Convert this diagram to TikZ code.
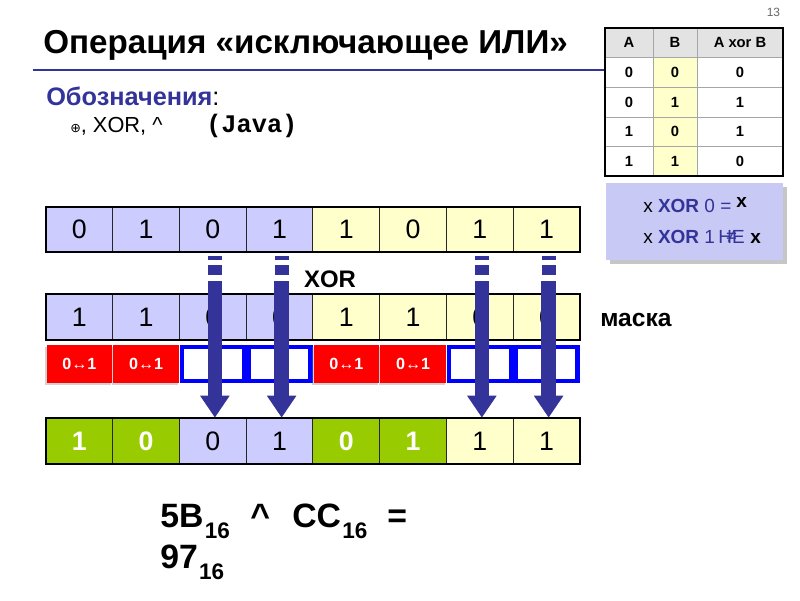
\documentclass[tikz,border=0pt]{standalone}
\usepackage{fontspec}
\setmainfont{Liberation Sans}
\setmonofont{Liberation Mono}
\newfontfamily\symfont{DejaVu Sans}
\usepackage{xcolor}
\usepackage{tikz}
\usetikzlibrary{arrows.meta,shadows,calc}
\definecolor{lav}{HTML}{CCCCFF}
\definecolor{yel}{HTML}{FFFFCC}
\definecolor{grn}{HTML}{99CC00}
\definecolor{navy}{HTML}{333399}
\definecolor{hdr}{HTML}{E3E3E3}
\definecolor{boxc}{HTML}{C9C9F5}
\definecolor{flip}{HTML}{FF0000}
\definecolor{keep}{HTML}{0000FF}
\newcommand{\fs}[1]{\fontsize{#1pt}{#1pt}\selectfont}
\newcommand{\hexsub}[1]{\kern1pt\raisebox{-8.5pt}{\fs{16}#1}}
\tikzset{
  txt/.style={anchor=base west,inner sep=0pt},
  bitcell/.style={draw=black!85,line width=0.7pt,minimum width=1.669cm,minimum height=1.14cm,inner sep=0pt,font=\fs{19}},
  lavcell/.style={bitcell,fill=lav},
  yelcell/.style={bitcell,fill=yel},
  grncell/.style={bitcell,fill=grn,text=white,font=\fs{19}\bfseries},
  flipcell/.style={fill=flip,minimum width=1.64cm,minimum height=0.95cm,inner sep=0pt,text=white,font=\fs{11.5}\bfseries},
  keepcell/.style={draw=keep,line width=3.2pt,fill=white,minimum width=1.55cm,minimum height=0.85cm,inner sep=0pt},
  bigarrow/.style={navy,line width=0.36cm,-{Triangle[width=0.7cm,length=0.55cm]}},
  tabtext/.style={font=\fs{10.5}\bfseries}
}
\begin{document}
\begin{tikzpicture}[x=0.025cm,y=-0.025cm]
  \useasboundingbox (0,0) rectangle (800,600);
  \node[txt,font=\fs{23.6}\bfseries] (title) at (43,53) {Операция «исключающее ИЛИ»};
  \draw[navy,line width=1.8pt] (33,70) -- (605,70);
  \node[txt,font=\fs{18}\bfseries,text=navy] (notat) at (46,105) {Обозначения\textcolor{black}{\mdseries:}};
  \node[txt,font=\fs{15.5}] (syms) at (70,132) {{\symfont\fs{9}⊕}, XOR, \textasciicircum};
  \node[txt,font=\fs{18}\ttfamily\bfseries] (java) at (206,132) {(Java)};
  \node[anchor=base east,font=\fs{8.5},text=black!60] (pnum) at (785,16) {13};

  % truth table
  \fill[hdr] (605,28) rectangle (783,57);
  \fill[yel] (653,57) rectangle (697,176);
  \foreach \y in {57,87,117,146} \draw[gray!70,line width=0.6pt] (605,\y) -- (783,\y);
  \foreach \x in {653,697} \draw[gray!70,line width=0.6pt] (\x,28) -- (\x,176);
  \draw[line width=1.2pt] (605,28) rectangle (783,176);
  \node[tabtext] (tA) at (629,42.5) {A};
  \node[tabtext] (tB) at (675,42.5) {B};
  \node[tabtext] (tX) at (740,42.5) {A xor B};
  \foreach \a/\b/\c/\y [count=\i] in {0/0/0/72,0/1/1/102,1/0/1/131.5,1/1/0/161} {
    \node[tabtext] (ta\i) at (629,\y) {\a};
    \node[tabtext] (tb\i) at (675,\y) {\b};
    \node[tabtext] (tx\i) at (740,\y) {\c};
  }

  \node[fill=boxc,minimum width=4.42cm,minimum height=1.925cm,
    drop shadow={shadow xshift=0.09cm,shadow yshift=-0.09cm,opacity=0.45}] (rule) at (694.5,221.5) {};
  \node[txt,font=\fs{13.5}] (r1) at (643,212) {x \textcolor{navy}{\textbf{XOR} 0 =}};
  \node[txt,font=\fs{13.5}\bfseries] (r1x) at (736,207) {x};
  \node[txt,font=\fs{13.5}] (r2) at (643,243) {x \textcolor{navy}{\textbf{XOR} 1}};
  \node[txt,font=\fs{13.5},text=navy] (ne) at (718,243) {НЕ};
  \node[font=\fs{13.5},text=navy,inner sep=0pt] (neq) at (ne.center) {≠};
  \node[txt,font=\fs{13.5}\bfseries] (r2x) at (750,243) {x};

  % bit rows
  \foreach \d/\s [count=\i from 0] in {0/lav,1/lav,0/lav,1/lav,1/yel,0/yel,1/yel,1/yel}
    \node[\s cell] (a\i) at ({46+66.75*(\i+0.5)},229.5) {\d};
  \draw[line width=1.3pt] (46,207) rectangle (580,252);
  \node[font=\fs{17}\bfseries] (xorlbl) at (330,279) {XOR};
  \foreach \d/\s [count=\i from 0] in {1/lav,1/lav,0/lav,0/lav,1/yel,1/yel,0/yel,0/yel}
    \node[\s cell] (b\i) at ({46+66.75*(\i+0.5)},317) {\d};
  \draw[line width=1.3pt] (46,294) rectangle (580,340);
  \node[txt,font=\fs{17.5}\bfseries] (mask) at (600,326) {маска};
  \foreach \s [count=\i from 0] in {flip,flip,keep,keep,flip,flip,keep,keep}
    \node[\s cell,drop shadow={shadow xshift=-0.03cm,shadow yshift=-0.04cm,opacity=0.35}] (m\i) at ({46+66.75*(\i+0.5)},364) {};
  \foreach \i in {0,1,4,5} \node[font=\fs{11.5}\bfseries,text=white] (f\i) at (m\i) {0↔1};
  \foreach \d/\s [count=\i from 0] in {1/grn,0/grn,0/lav,1/lav,0/grn,1/grn,1/yel,1/yel}
    \node[\s cell] (c\i) at ({46+66.75*(\i+0.5)},441) {\d};
  \draw[line width=1.3pt] (46,418) rectangle (580,464);

  % arrows
  \foreach \k in {2,3,6,7} {
    \coordinate (top\k) at ({48+66.75*(\k+0.5)},281);
    \fill[navy] ($(top\k)+(-7,-25)$) rectangle ($(top\k)+(7,-21)$);
    \fill[navy] ($(top\k)+(-7,-16)$) rectangle ($(top\k)+(7,-6)$);
    \draw[bigarrow] (top\k) -- (top\k |- c\k.north);
  }

  \node[txt,font=\fs{24}\bfseries] (lhs) at (160,527) {5B\hexsub{16}};
  \node[txt,font=\fs{24}\bfseries] (op) at (250,527) {\textasciicircum};
  \node[txt,font=\fs{24}\bfseries] (rhs) at (292,527) {CC\hexsub{16}};
  \node[txt,font=\fs{24}\bfseries] (eq) at (387,527) {=};
  \node[txt,font=\fs{24}\bfseries] (res) at (160,568) {97\hexsub{16}};
\end{tikzpicture}
\end{document}
